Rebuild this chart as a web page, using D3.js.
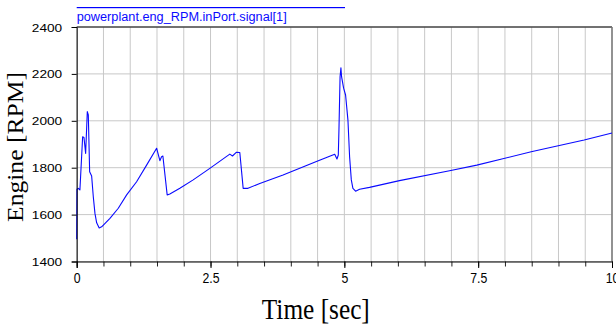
<!DOCTYPE html>
<html><head><meta charset="utf-8">
<script src="https://cdn.jsdelivr.net/npm/d3@7"></script>
<style>body{margin:0;background:#fff}svg{display:block}</style>
</head><body>
<svg id="c" width="616" height="329"></svg>
<script>
const seriesName = "powerplant.eng_RPM.inPort.signal[1]";
const xLabel = "Time [sec]";
const yLabel = "Engine [RPM]";
const xTicks = [0, 2.5, 5, 7.5, 10];
const xTickLabels = ["0", "2.5", "5", "7.5", "10"];
const yTicks = [1400, 1600, 1800, 2000, 2200, 2400];
const yTickLabels = ["1400", "1600", "1800", "2000", "2200", "2400"];
const time = [0, 0.005, 0.03, 0.06, 0.111, 0.136, 0.167, 0.198, 0.217, 0.242, 0.279, 0.31, 0.341, 0.373, 0.42, 0.466, 0.621, 0.777, 0.933, 1.119, 1.306, 1.493, 1.554, 1.585, 1.61, 1.69, 1.74, 1.927, 2.176, 2.487, 2.86, 2.91, 2.985, 3.047, 3.11, 3.2, 3.42, 3.855, 4.478, 4.82, 4.862, 4.887, 4.899, 4.92, 4.936, 4.948, 4.986, 5.023, 5.067, 5.098, 5.13, 5.16, 5.21, 5.285, 5.47, 6.03, 6.965, 7.475, 8.49, 9.48, 10];
const rpm = [1495, 1708, 1712, 1705, 1932, 1929, 1861, 2039, 2025, 1783, 1765, 1676, 1605, 1565, 1543, 1548, 1584, 1627, 1684, 1740, 1811, 1883, 1830, 1847, 1850, 1684, 1688, 1712, 1748, 1797, 1858, 1850, 1866, 1865, 1712, 1712, 1733, 1769, 1826, 1857, 1837, 1854, 1961, 2188, 2226, 2188, 2139, 2110, 2003, 1847, 1748, 1712, 1700, 1708, 1716, 1745, 1787, 1811, 1868, 1918, 1948];

const svg = d3.select("#c");
const L = 76.7, R = 612, T = 27, B = 261.5;
const x = d3.scaleLinear().domain([0, 10]).range([L, R]);
const y = d3.scaleLinear().domain([1400, 2400]).range([B, T]);

// grid
const gx = d3.range(0, 10.001, 0.5);
svg.append("g").selectAll("line").data(gx).join("line")
  .attr("x1", d => x(d)).attr("x2", d => x(d)).attr("y1", T).attr("y2", B)
  .attr("stroke", "#c8c8c8").attr("stroke-width", 1);
svg.append("g").selectAll("line").data(yTicks).join("line")
  .attr("x1", L).attr("x2", R).attr("y1", d => y(d)).attr("y2", d => y(d))
  .attr("stroke", "#c8c8c8").attr("stroke-width", 1);

// borders
svg.append("line").attr("x1", L).attr("x2", R).attr("y1", T).attr("y2", T).attr("stroke", "#000").attr("stroke-width", 1);
svg.append("line").attr("x1", R).attr("x2", R).attr("y1", T).attr("y2", B).attr("stroke", "#777").attr("stroke-width", 1.5);

// line
svg.append("path").datum(time.map((t, i) => [t, rpm[i]]))
  .attr("fill", "none").attr("stroke", "#0a0aff").attr("stroke-width", 1.1)
  .attr("stroke-linejoin", "round")
  .attr("d", d3.line().x(d => x(d[0])).y(d => y(d[1])));

// x axis minor ticks
const xMinor = svg.append("g").attr("transform", `translate(0,${B})`)
  .call(d3.axisBottom(x).tickValues(gx).tickSize(5).tickFormat(""));
xMinor.select(".domain").remove();
xMinor.selectAll("line").attr("stroke", "#222");

const xAxis = svg.append("g").attr("transform", `translate(0,${B})`)
  .call(d3.axisBottom(x).tickValues(xTicks).tickSizeOuter(0).tickSize(6.5)
    .tickFormat((d, i) => xTickLabels[i]));
xAxis.select(".domain").attr("stroke", "#000");
xAxis.selectAll("text").attr("y", 22).attr("dy", 0)
  .attr("font-family", "Liberation Sans, Arial, sans-serif").attr("font-size", 15)
  .attr("fill", "#000").attr("transform", "scale(0.82,1)");

const yAxis = svg.append("g").attr("transform", `translate(${L},0)`)
  .call(d3.axisLeft(y).tickValues(yTicks).tickSizeOuter(0).tickSize(5)
    .tickFormat((d, i) => yTickLabels[i]));
yAxis.select(".domain").attr("stroke", "#000");
yAxis.selectAll("text").attr("x", -14.5 / 1.22).attr("dy", "0.36em")
  .attr("font-family", "Liberation Sans, Arial, sans-serif").attr("font-size", 11.2)
  .attr("fill", "#000").attr("transform", "scale(1.22,1)");

// legend
svg.append("rect").attr("x", L).attr("y", 7).attr("width", 345 - L).attr("height", 1.2)
  .attr("fill", "#0000ff");
svg.append("text").attr("x", L).attr("y", 20.7)
  .attr("font-family", "Liberation Sans, Arial, sans-serif").attr("font-size", 12.5)
  .attr("fill", "#0a0aff").attr("textLength", 210).attr("lengthAdjust", "spacingAndGlyphs")
  .text(seriesName);

// axis labels
svg.append("text").attr("x", 315.8).attr("y", 319.3).attr("text-anchor", "middle")
  .attr("font-family", "Liberation Serif, Times New Roman, serif").attr("font-size", 30)
  .attr("fill", "#000").attr("textLength", 108).attr("lengthAdjust", "spacingAndGlyphs")
  .text(xLabel);
svg.append("text").attr("transform", "translate(22.7,147) rotate(-90)").attr("text-anchor", "middle")
  .attr("font-family", "Liberation Serif, Times New Roman, serif").attr("font-size", 23)
  .attr("fill", "#000").attr("textLength", 150).attr("lengthAdjust", "spacingAndGlyphs")
  .text(yLabel);
</script>
</body></html>
